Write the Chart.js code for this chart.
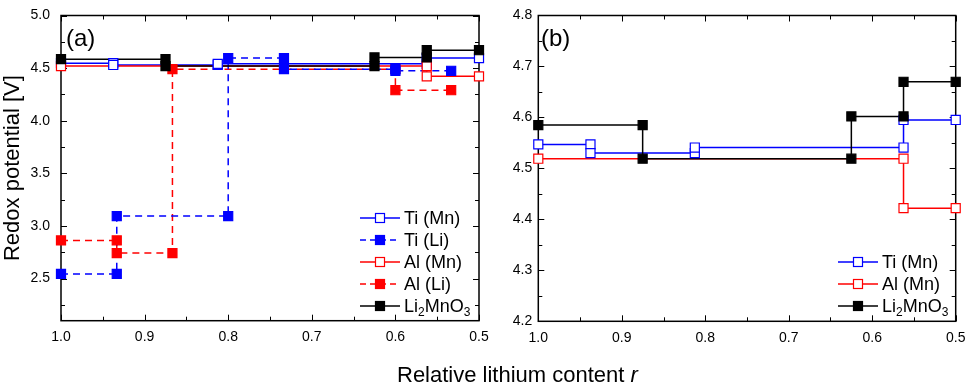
<!DOCTYPE html>
<html>
<head>
<meta charset="utf-8">
<script src="https://cdn.jsdelivr.net/npm/chart.js@4.4.1/dist/chart.umd.min.js"></script>
<style>
  body {
    margin: 0;
    width: 967px;
    height: 392px;
    overflow: hidden;
    position: relative;
    background: #fff;
    font-family: "Liberation Sans", Arial, sans-serif;
    color: #000;
  }
  canvas { position: absolute; top: 0; }
  #chartA { left: 0; }
  #chartB { left: 490px; }
  .panel-tag { position: absolute; font-size: 24px; line-height: 24px; }
  .legend { position: absolute; font-size: 18px; }
  .legend .row { display: flex; align-items: center; height: 22px; white-space: nowrap; }
  .legend svg { margin-right: 4px; }
  sub { font-size: 12px; vertical-align: -4px; line-height: 0; }
  #xTitle { position: absolute; left: 397px; top: 362px; font-size: 22px; line-height: 26px; }
</style>
</head>
<body>
<canvas id="chartA" width="490" height="392"></canvas>
<canvas id="chartB" width="477" height="392"></canvas>
<div class="panel-tag" style="left:66px; top:26px;">(a)</div>
<div class="panel-tag" style="left:541px; top:26px;">(b)</div>
<div class="legend" id="legendA" style="left:360px; top:207px;"></div>
<div class="legend" id="legendB" style="left:838px; top:251px;"></div>
<div id="xTitle">Relative lithium content <i>r</i></div>

<script>
// ============================
// DATA
// ============================
const xTickLabels = [1.0, 0.9, 0.8, 0.7, 0.6, 0.5];
const yTickLabelsA = [2.5, 3.0, 3.5, 4.0, 4.5, 5.0];
const yTickLabelsB = [4.2, 4.3, 4.4, 4.5, 4.6, 4.7, 4.8];

// Ti substituted on Mn site
const tiMnR = [1.0, 0.9375, 0.9375, 0.8125, 0.8125, 0.5625, 0.5625, 0.5];
const tiMnV = [4.547, 4.547, 4.530, 4.530, 4.541, 4.541, 4.595, 4.595];

// Ti substituted on Li site
const tiLiR = [1.0, 0.9333, 0.9333, 0.8, 0.8, 0.7333, 0.7333, 0.6, 0.6, 0.5333];
const tiLiV = [2.544, 2.544, 3.094, 3.094, 4.596, 4.596, 4.49, 4.49, 4.475, 4.475];

// Al substituted on Mn site
const alMnR = [1.0, 0.5625, 0.5625, 0.5];
const alMnV = [4.519, 4.519, 4.422, 4.422];

// Al substituted on Li site
const alLiR = [1.0, 0.9333, 0.9333, 0.8667, 0.8667, 0.6, 0.6, 0.5333];
const alLiV = [2.863, 2.863, 2.743, 2.743, 4.49, 4.49, 4.29, 4.29];

// pristine Li2MnO3
const pureR = [1.0, 0.875, 0.875, 0.625, 0.625, 0.5625, 0.5625, 0.5];
const pureV = [4.585, 4.585, 4.519, 4.519, 4.602, 4.602, 4.67, 4.67];

const BLUE = "#0000ff";
const RED = "#ff0000";
const BLACK = "#000000";

Chart.defaults.font.family = '"Liberation Sans", Arial, sans-serif';
Chart.defaults.font.size = 14;
Chart.defaults.color = "#000";

function toPoints(xs, ys) {
  return xs.map((x, i) => ({ x: x, y: ys[i] }));
}

function makeSeries(label, xs, ys, color, filled, dashed) {
  return { label, xs, ys, color, filled, dashed };
}

const tiMn = makeSeries("Ti (Mn)", tiMnR, tiMnV, BLUE, false, false);
const tiLi = makeSeries("Ti (Li)", tiLiR, tiLiV, BLUE, true, true);
const alMn = makeSeries("Al (Mn)", alMnR, alMnV, RED, false, false);
const alLi = makeSeries("Al (Li)", alLiR, alLiV, RED, true, true);
const pure = makeSeries("Li<sub>2</sub>MnO<sub>3</sub>", pureR, pureV, BLACK, true, false);

// all step lines go below all symbols; later entries in drawList sit on top
function buildDatasets(drawList) {
  const lines = drawList.map((s, j) => ({
    label: s.label.replace(/<\/?sub>/g, "") + " line",
    data: toPoints(s.xs, s.ys),
    showLine: true,
    borderColor: s.color,
    borderWidth: 1.5,
    borderDash: s.dashed ? [7, 5] : [],
    pointRadius: 0,
    pointHoverRadius: 0,
    clip: false,
    order: 100 - j
  }));
  const symbols = drawList.map((s, j) => ({
    label: s.label.replace(/<\/?sub>/g, ""),
    data: toPoints(s.xs, s.ys),
    showLine: false,
    pointStyle: "rect",
    pointRadius: 6.4,
    pointHoverRadius: 6.4,
    pointBorderWidth: 1.2,
    pointBorderColor: s.color,
    pointBackgroundColor: s.filled ? s.color : "#ffffff",
    clip: false,
    order: 50 - j
  }));
  return lines.concat(symbols);
}

// ============================
// INWARD TICKS + FRAME
// ============================
function drawScaleTicks(ctx, scale, step, isX, a) {
  const half = step / 2;
  const kMin = Math.ceil(scale.min / half - 1e-6);
  const kMax = Math.floor(scale.max / half + 1e-6);
  for (let k = kMin; k <= kMax; k++) {
    const v = k * half;
    const major = Math.abs(v / step - Math.round(v / step)) < 1e-6;
    const len = major ? 6 : 4;
    const p = Math.round(scale.getPixelForValue(v)) + 0.5;
    ctx.beginPath();
    if (isX) {
      ctx.moveTo(p, a.bottom); ctx.lineTo(p, a.bottom - len);
      ctx.moveTo(p, a.top); ctx.lineTo(p, a.top + len);
    } else {
      ctx.moveTo(a.left, p); ctx.lineTo(a.left + len, p);
      ctx.moveTo(a.right, p); ctx.lineTo(a.right - len, p);
    }
    ctx.stroke();
  }
}

const innerFrame = {
  id: "innerFrame",
  beforeDatasetsDraw(chart, args, opts) {
    const { ctx, chartArea: a } = chart;
    ctx.save();
    ctx.strokeStyle = "#000";
    ctx.lineWidth = 1;
    drawScaleTicks(ctx, chart.scales.x, opts.xStep, true, a);
    drawScaleTicks(ctx, chart.scales.y, opts.yStep, false, a);
    ctx.lineWidth = 1.5;
    ctx.strokeRect(a.left, a.top, a.right - a.left, a.bottom - a.top);
    ctx.restore();
  }
};

// ============================
// CHART BUILDER
// ============================
function buildChart(canvasId, drawList, cfg) {
  const canvas = document.getElementById(canvasId);
  const chart = new Chart(canvas.getContext("2d"), {
    type: "scatter",
    data: { datasets: buildDatasets(drawList) },
    options: {
      responsive: false,
      animation: false,
      devicePixelRatio: 1,
      layout: { padding: { left: 0, right: cfg.padRight, top: cfg.top, bottom: 0 } },
      scales: {
        x: {
          type: "linear",
          reverse: true,
          min: 0.5,
          max: 1.0,
          grid: { display: false, tickLength: 0 },
          border: { display: false },
          afterBuildTicks: scale => {
            scale.ticks = xTickLabels.map(v => ({ value: v }));
          },
          afterFit: scale => {
            scale.height = canvas.height - cfg.bottom;
            scale.paddingLeft = 0;
            scale.paddingRight = 0;
          },
          ticks: {
            padding: 8,
            maxRotation: 0,
            autoSkip: false,
            callback: v => Number(v).toFixed(1)
          }
        },
        y: {
          type: "linear",
          min: cfg.yMin,
          max: cfg.yMax,
          grid: { display: false, tickLength: 0 },
          border: { display: false },
          afterBuildTicks: scale => {
            scale.ticks = cfg.yTicks.map(v => ({ value: v }));
          },
          afterFit: scale => {
            scale.width = cfg.yWidth;
            scale.paddingTop = 0;
            scale.paddingBottom = 0;
          },
          ticks: {
            padding: cfg.yPad,
            autoSkip: false,
            callback: v => Number(v).toFixed(1)
          },
          title: cfg.yTitle
            ? {
                display: true,
                text: cfg.yTitle,
                font: { size: 22 },
                padding: { top: 0, bottom: 0 }
              }
            : { display: false }
        }
      },
      plugins: {
        legend: { display: false },
        tooltip: { enabled: false },
        innerFrame: { xStep: 0.1, yStep: cfg.yStep }
      }
    },
    plugins: [innerFrame]
  });

  // nudge the plot box onto the intended edges if layout drifted
  const pad = chart.options.layout.padding;
  const dTop = chart.chartArea.top - cfg.top;
  const dRight = (canvas.width - cfg.padRight) - chart.chartArea.right;
  if (Math.abs(dTop) > 0.2 || Math.abs(dRight) > 0.2) {
    pad.top = cfg.top - dTop;
    pad.right = cfg.padRight - dRight;
    chart.update();
  }
  return chart;
}

buildChart("chartA", [tiMn, alMn, alLi, tiLi, pure], {
  padRight: 11,
  top: 15.5,
  bottom: 320.7,
  yWidth: 61,
  yPad: 11,
  yMin: 2.1,
  yMax: 5.0,
  yStep: 0.5,
  yTicks: yTickLabelsA,
  yTitle: "Redox potential [V]"
});

buildChart("chartB", [tiMn, alMn, pure], {
  padRight: 11.3,
  top: 15.5,
  bottom: 321.3,
  yWidth: 48.3,
  yPad: 6,
  yMin: 4.2,
  yMax: 4.8,
  yStep: 0.1,
  yTicks: yTickLabelsB,
  yTitle: null
});

// ============================
// LEGENDS
// ============================
function renderLegend(containerId, list) {
  const box = document.getElementById(containerId);
  list.forEach(s => {
    const row = document.createElement("div");
    row.className = "row";
    const dash = s.dashed ? ' stroke-dasharray="6 4"' : "";
    row.innerHTML = `
      <svg width="40" height="22">
        <line x1="0" y1="11" x2="40" y2="11" stroke="${s.color}" stroke-width="1.5"${dash}/>
        <rect x="15.5" y="6.5" width="9" height="9" fill="${s.filled ? s.color : "#fff"}" stroke="${s.color}" stroke-width="1.2"/>
      </svg>
      <span>${s.label}</span>`;
    box.appendChild(row);
  });
}

renderLegend("legendA", [tiMn, tiLi, alMn, alLi, pure]);
renderLegend("legendB", [tiMn, alMn, pure]);
</script>
</body>
</html>
